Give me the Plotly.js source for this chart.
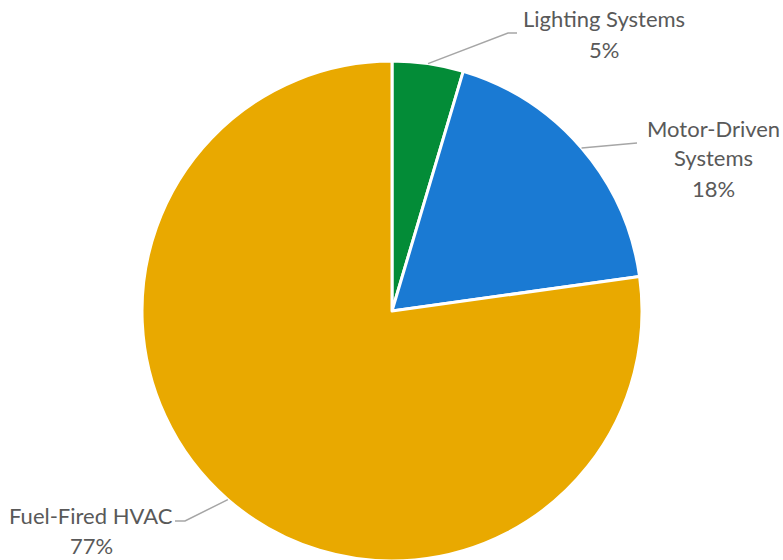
<!DOCTYPE html>
<html>
<head>
<meta charset="utf-8">
<script src="https://cdn.plot.ly/plotly-3.0.1.min.js"></script>
<style>
html,body{margin:0;padding:0;background:#fff;overflow:hidden;}
#chart{width:783px;height:600px;}
</style>
</head>
<body>
<div id="chart"></div>
<script>
// Data
const categories = ["Lighting Systems", "Motor-Driven Systems", "Fuel-Fired HVAC"];
const labelLines = [["Lighting Systems"], ["Motor-Driven", "Systems"], ["Fuel-Fired HVAC"]];
const shares = [4.6, 18.2, 77.2];
const colors = ["#038C37", "#1A7AD3", "#E9A900"];

// Layout geometry (pixels)
const W = 783, H = 600;
const cx = 392, cy = 311, R = 250;
const toX = px => px / W;
const toY = py => 1 - py / H;

const total = shares.reduce((a, b) => a + b, 0);
const pct = shares.map(v => Math.round(v / total * 100) + "%");

// mid-angle of each slice (clockwise from 12 o'clock), for leader start points
let cum = 0;
const mids = shares.map(v => { const m = (cum + v / 2) / total; cum += v; return m * 2 * Math.PI; });
const edge = mids.map(a => [cx + R * Math.sin(a), cy - R * Math.cos(a)]);

// label placement (text layout)
const labelPos = [
  {x: 604, ys: [19, 49], bend: [[508, 33], [517, 33]]},
  {x: 713, ys: [128, 158, 188], bend: [[637, 143]]},
  {x: 91, ys: [515, 545], bend: [[185, 521], [175, 521]]}
];

const shapes = [];
const annotations = [];
labelPos.forEach((lp, i) => {
  const pts = [edge[i]].concat(lp.bend);
  const path = pts.map((p, k) => (k ? "L" : "M") + toX(p[0]) + "," + toY(p[1])).join(" ");
  shapes.push({type: "path", xref: "paper", yref: "paper", path: path,
    line: {color: "#A6A6A6", width: 1.5}});
  const lines = labelLines[i].concat([pct[i]]);
  lines.forEach((t, k) => {
    annotations.push({xref: "paper", yref: "paper", x: toX(lp.x), y: toY(lp.ys[k]),
      xanchor: "center", yanchor: "middle", showarrow: false, text: t,
      font: {family: "Lato, 'Open Sans', sans-serif", size: 22, color: "#595959"}});
  });
});

const trace = {
  type: "pie",
  values: shares,
  labels: categories,
  sort: false,
  direction: "clockwise",
  rotation: 0,
  textinfo: "none",
  hoverinfo: "label+percent",
  marker: {colors: colors, line: {color: "#ffffff", width: 3}},
  domain: {x: [(cx - R) / W, (cx + R) / W], y: [toY(cy + R), toY(cy - R)]},
  showlegend: false
};

Plotly.newPlot("chart", [trace], {
  width: W, height: H,
  margin: {l: 0, r: 0, t: 0, b: 0},
  paper_bgcolor: "#ffffff",
  showlegend: false,
  shapes: shapes,
  annotations: annotations
}, {displayModeBar: false, staticPlot: true});
</script>
</body>
</html>
